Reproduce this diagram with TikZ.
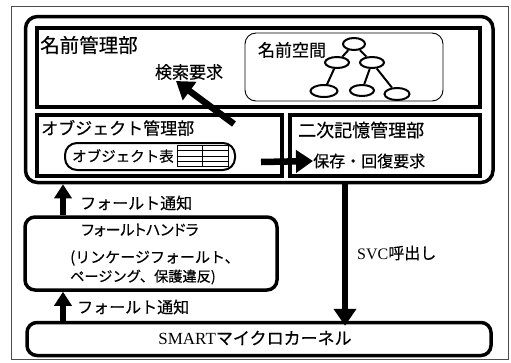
\documentclass[tikz,border=0pt]{standalone}
\usepackage{fontspec}
\setmainfont{Liberation Serif}
\newfontfamily\jp[FakeBold=0.4]{Noto Sans CJK JP}
\newfontfamily\jpp[FakeBold=0.4,RawFeature=+palt]{Noto Sans CJK JP}
\usetikzlibrary{arrows.meta,shapes.geometric,positioning}
\newcommand{\fsz}[1]{\fontsize{#1}{#1}\selectfont}
\begin{document}
\begin{tikzpicture}[x=1pt,y=-1pt,
  thickbox/.style={draw, line width=3.5pt, inner sep=0pt, rounded corners=10pt},
  sqbox/.style={draw, line width=3.8pt, inner sep=0pt},
  thinbox/.style={draw, line width=0.9pt, inner sep=0pt, rounded corners=11pt},
  lbl/.style={inner sep=0pt, font=\jp\fsz{16}},
  treenode/.style={draw, ellipse, line width=2pt, inner sep=0pt, minimum width=24pt, minimum height=11pt},
  treeedge/.style={line width=2pt},
  bigarrow/.style={line width=6.5pt, -{Triangle[length=17pt,width=22pt]}},
  smallarrow/.style={line width=6pt, -{Triangle[length=14pt,width=17pt]}}
]
\useasboundingbox (0,0) rectangle (511,362);
\fill[white] (0,0) rectangle (511,362);
% outer thin frame
\node[draw=black!70, line width=0.8pt, inner sep=0pt, minimum width=497pt, minimum height=353pt] (frame) at (259.5,182.5) {};

% big rounded container
\node[thickbox, rounded corners=12pt, minimum width=467.5pt, minimum height=166pt] (os) at (259.25,99.5) {};
% name management
\node[sqbox, minimum width=443pt, minimum height=79pt] (name) at (258.5,67.5) {};
\node[lbl, anchor=west, font=\jp\fsz{19.5}] (namelbl) at (40,45) {名前管理部};
\node[lbl, font=\jp\fsz{17}] (search) at (189,72) {検索要求};
% name space
\node[thinbox, minimum width=198pt, minimum height=68pt] (ns) at (344,67) {};
\node[lbl, font=\jp\fsz{17}] (nslbl) at (292,50) {名前空間};
\node[treenode, minimum width=22pt, minimum height=12pt] (t0) at (354,44) {};
\node[treenode] (t1) at (337,62.5) {};
\node[treenode] (t2) at (372,62.5) {};
\node[treenode, minimum width=27pt, minimum height=12pt] (t3) at (324,91) {};
\node[treenode] (t4) at (362,90.5) {};
\node[treenode, minimum width=25pt, minimum height=12pt] (t5) at (397,94) {};
\draw[treeedge] (t0) -- (t1);
\draw[treeedge] (t0) -- (t2);
\draw[treeedge] (t1) -- (t3);
\draw[treeedge] (t2) -- (t4);
\draw[treeedge] (t2) -- (t5);

% object management
\node[sqbox, minimum width=245pt, minimum height=61pt] (obj) at (159.5,145.5) {};
\node[lbl, anchor=west, font=\jp\fsz{17}] (objlbl) at (41,128) {オブジェクト管理部};
\node[draw, line width=2pt, inner sep=0pt, rounded corners=12pt, minimum width=170pt, minimum height=27pt] (objtab) at (150,156.5) {};
\node[lbl, anchor=west, font=\jp\fsz{14.5}] (objtablbl) at (72,156) {オブジェクト表};
\node[draw, line width=0.8pt, inner sep=0pt, minimum width=51pt, minimum height=21pt] (tbl) at (202.5,156) {};
\draw[line width=0.8pt] (tbl.north) -- (tbl.south);
\draw[line width=0.6pt] ([yshift=-5.25pt]tbl.north west) -- ([yshift=-5.25pt]tbl.north east);
\draw[line width=0.6pt] (tbl.west) -- (tbl.east);
\draw[line width=0.6pt] ([yshift=5.25pt]tbl.south west) -- ([yshift=5.25pt]tbl.south east);

% secondary storage management
\node[sqbox, minimum width=190pt, minimum height=61pt] (sec) at (385,145.5) {};
\node[lbl, anchor=west, font=\jp\fsz{18}] (seclbl) at (298,130) {二次記憶管理部};
\node[lbl, anchor=west] (save) at (313,161) {保存・回復要求};

% arrows inside
\coordinate (searchfrom) at (234,124);
\coordinate (searchto) at (176,81);
\draw[bigarrow] (searchfrom) -- (searchto);
\coordinate (savefrom) at (261,162);
\draw[bigarrow] (savefrom) -- (save.west);

% fault handler
\node[thickbox, minimum width=252pt, minimum height=73pt] (fh) at (151,253.5) {};
\node[lbl, font=\jpp\fsz{15}] (fhlbl) at (140,230) {フォールトハンドラ};
\node[lbl, anchor=west, font=\jp\fsz{15}] (fh2) at (70,258) {(リンケージフォールト、};
\node[lbl, anchor=west, font=\jp\fsz{14.2}] (fh3) at (70,277) {ページング、保護違反)};
\node[lbl, anchor=west] (fn1) at (80,203) {フォールト通知};
\node[lbl, anchor=west] (fn2) at (77,307) {フォールト通知};

% kernel
\node[thickbox, minimum width=464pt, minimum height=33pt] (kern) at (259,339) {};
\node[inner sep=0pt] (kernlbl) at (255,338) {\fsz{17}SMART{\jp マイクロカーネル}};

% SVC
\node[lbl, anchor=west] (svc) at (357,253) {{\rmfamily SVC}呼出し};

% vertical arrows
\draw[smallarrow] (fh.north -| 63,0) -- (os.south -| 63,0);
\draw[smallarrow] (kern.north -| 63,0) -- (fh.south -| 63,0);
\draw[bigarrow] (os.south -| 345,0) -- ([yshift=-5pt]kern.north -| 345,0);
\end{tikzpicture}
\end{document}
